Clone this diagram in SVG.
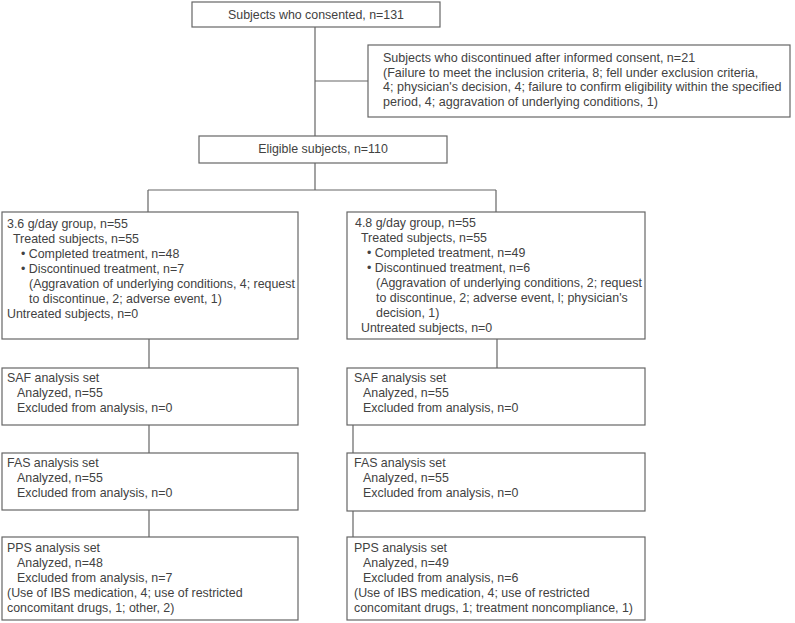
<svg xmlns="http://www.w3.org/2000/svg" width="795" height="623" viewBox="0 0 795 623">
<style>
.box{fill:#fff;stroke:#666;stroke-width:1.2}
.ln{stroke:#666;stroke-width:1.2;fill:none}
text{font-family:"Liberation Sans",Arial,sans-serif;font-size:12.4px;fill:#424242}
.c{text-anchor:middle}
.w{font-size:12.55px}
</style>
<rect width="795" height="623" fill="#fff"/>
<g id="connectors">
<path class="ln" d="M315,27V136M315,81H368M315,163V190M148,190H496M148,190V212M496,190V212M149,339V368M497,339V368M149,425V453M353,425V453M149,510V537M353,511V537"/>
</g>
<g id="consented">
<rect class="box" x="192" y="2" width="248" height="25"/>
<text class="c" x="316" y="19">Subjects who consented, n=131</text>
</g>
<g id="discontinued">
<rect class="box" x="368" y="45" width="422" height="72"/>
<text class="w" x="383" y="62">Subjects who discontinued after informed consent, n=21</text>
<text class="w" x="383" y="76.5">(Failure to meet the inclusion criteria, 8; fell under exclusion criteria,</text>
<text class="w" x="383" y="91">4; physician's decision, 4; failure to confirm eligibility within the specified</text>
<text class="w" x="383" y="105.5">period, 4; aggravation of underlying conditions, 1)</text>
</g>
<g id="eligible">
<rect class="box" x="199" y="136" width="248" height="27"/>
<text class="c" x="323" y="153">Eligible subjects, n=110</text>
</g>
<g id="group36">
<rect class="box" x="2" y="212" width="296" height="127"/>
<text x="7" y="228">3.6 g/day group, n=55</text>
<text x="13" y="243">Treated subjects, n=55</text>
<text x="21" y="258">• Completed treatment, n=48</text>
<text x="21" y="273">• Discontinued treatment, n=7</text>
<text x="29" y="288">(Aggravation of underlying conditions, 4; request</text>
<text x="29" y="303">to discontinue, 2; adverse event, 1)</text>
<text x="7" y="318">Untreated subjects, n=0</text>
</g>
<g id="group48">
<rect class="box" x="347" y="212" width="298" height="127"/>
<text x="355" y="227">4.8 g/day group, n=55</text>
<text x="361" y="242">Treated subjects, n=55</text>
<text x="367" y="257">• Completed treatment, n=49</text>
<text x="367" y="272">• Discontinued treatment, n=6</text>
<text x="376" y="287">(Aggravation of underlying conditions, 2; request</text>
<text x="376" y="302">to discontinue, 2; adverse event, l; physician's</text>
<text x="376" y="317">decision, 1)</text>
<text x="361" y="332">Untreated subjects, n=0</text>
</g>
<g id="saf36">
<rect class="box" x="2" y="368" width="296" height="57"/>
<text x="7" y="382">SAF analysis set</text>
<text x="17" y="397">Analyzed, n=55</text>
<text x="17" y="412">Excluded from analysis, n=0</text>
</g>
<g id="saf48">
<rect class="box" x="347" y="368" width="298" height="57"/>
<text x="354" y="382">SAF analysis set</text>
<text x="363" y="397">Analyzed, n=55</text>
<text x="363" y="412">Excluded from analysis, n=0</text>
</g>
<g id="fas36">
<rect class="box" x="2" y="453" width="296" height="57"/>
<text x="7" y="467">FAS analysis set</text>
<text x="17" y="482">Analyzed, n=55</text>
<text x="17" y="497">Excluded from analysis, n=0</text>
</g>
<g id="fas48">
<rect class="box" x="347" y="453" width="298" height="58"/>
<text x="354" y="467">FAS analysis set</text>
<text x="363" y="482">Analyzed, n=55</text>
<text x="363" y="497">Excluded from analysis, n=0</text>
</g>
<g id="pps36">
<rect class="box" x="2" y="537" width="296" height="83"/>
<text x="7" y="552">PPS analysis set</text>
<text x="17" y="567">Analyzed, n=48</text>
<text x="17" y="582">Excluded from analysis, n=7</text>
<text x="7" y="597">(Use of IBS medication, 4; use of restricted</text>
<text x="7" y="612">concomitant drugs, 1; other, 2)</text>
</g>
<g id="pps48">
<rect class="box" x="347" y="537" width="298" height="83"/>
<text x="354" y="552">PPS analysis set</text>
<text x="363" y="567">Analyzed, n=49</text>
<text x="363" y="582">Excluded from analysis, n=6</text>
<text x="354" y="597">(Use of IBS medication, 4; use of restricted</text>
<text x="354" y="612">concomitant drugs, 1; treatment noncompliance, 1)</text>
</g>
</svg>
